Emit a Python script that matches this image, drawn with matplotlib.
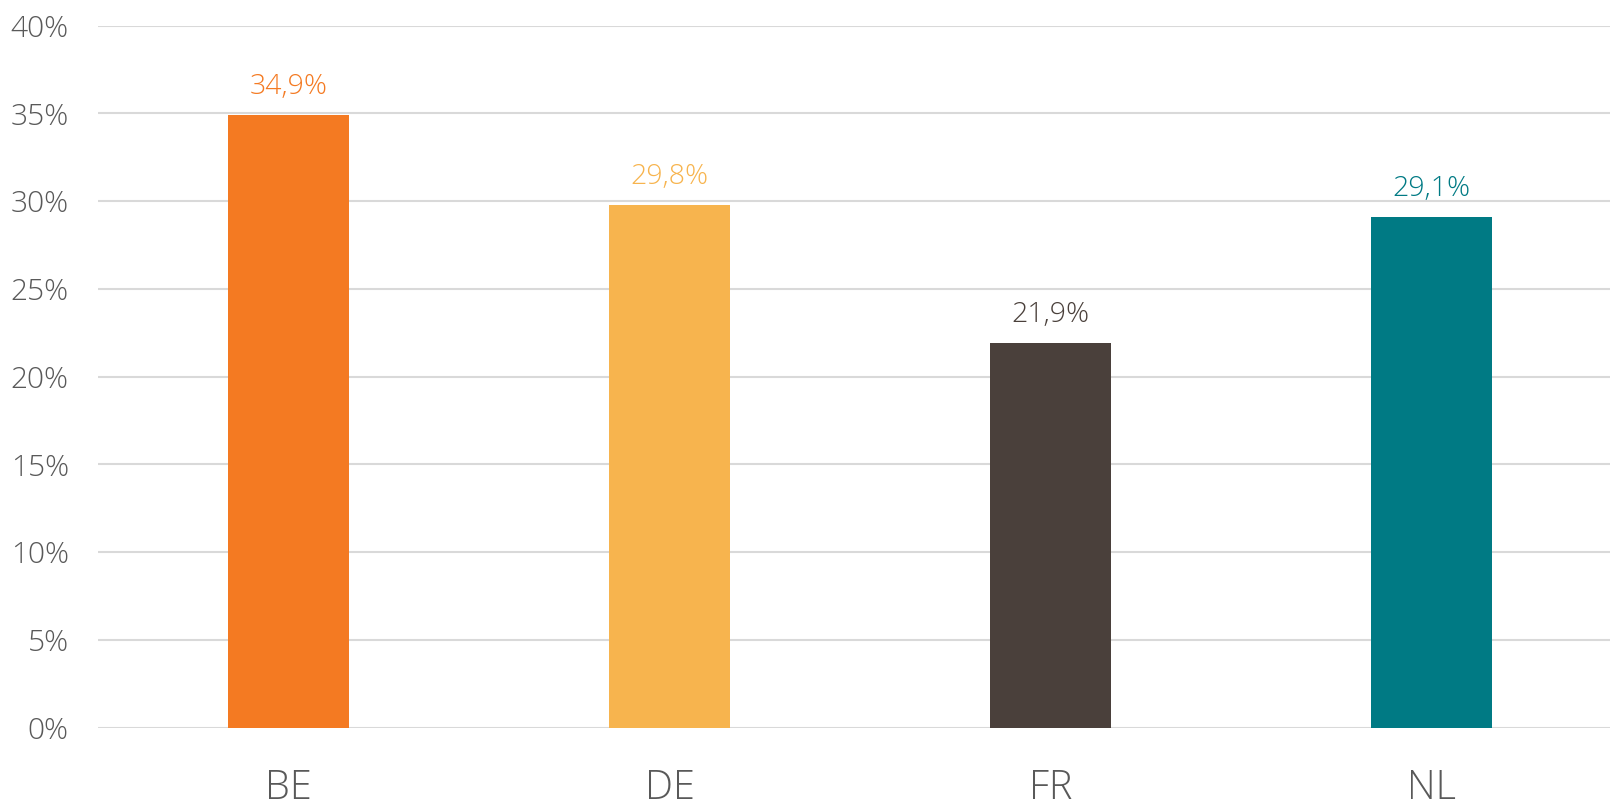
import matplotlib
matplotlib.use("Agg")
import matplotlib.pyplot as plt
from matplotlib.ticker import FuncFormatter

categories = ["BE", "DE", "FR", "NL"]
values = [34.9, 29.8, 21.9, 29.1]
value_labels = ["34,9%", "29,8%", "21,9%", "29,1%"]
colors = ["#F47A22", "#F7B44E", "#4A403B", "#007A84"]
yticks = [0, 5, 10, 15, 20, 25, 30, 35, 40]

plt.rcParams['font.family'] = ['Open Sans', 'DejaVu Sans']

W, H = 1610, 809
fig = plt.figure(figsize=(W / 100, H / 100), dpi=100)
left, right = 98, 1622
top, bottom = 25.7, 727.7
ax = fig.add_axes([left / W, 1 - bottom / H, (right - left) / W, (bottom - top) / H])

x = list(range(len(categories)))
ax.bar(x, values, width=0.315, color=colors, zorder=3)
for xi, v, lab, c in zip(x, values, value_labels, colors):
    ax.annotate(lab, (xi, v), xytext=(0, 14), textcoords='offset pixels',
                ha='center', va='bottom', fontsize=20.5, color=c, fontweight='light')

ax.set_xlim(-0.5, 3.5)
ax.set_ylim(0, 40)
ax.set_yticks(yticks)
ax.yaxis.set_major_formatter(FuncFormatter(lambda v, p: f"{int(v)}%"))
ax.set_xticks(x)
ax.set_xticklabels(categories)
ax.grid(axis='y', color='#D9D9D9', linewidth=1.5, zorder=0)
ax.set_axisbelow(True)
for s in ax.spines.values():
    s.set_visible(False)
ax.tick_params(axis='y', length=0, pad=21, labelsize=21.5, labelcolor='#595959')
ax.tick_params(axis='x', length=0, pad=29, labelsize=28.5, labelcolor='#595959')
for t in ax.get_yticklabels() + ax.get_xticklabels():
    t.set_fontweight('light')

fig.savefig("out.png", dpi=100)
